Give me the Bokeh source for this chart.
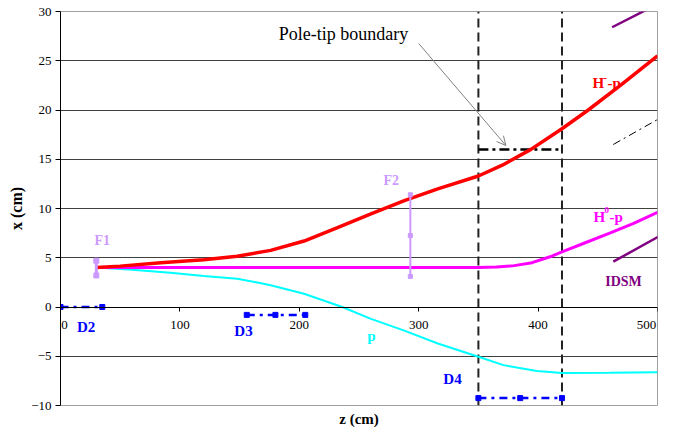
from bokeh.plotting import figure
from bokeh.models import (Range1d, LinearAxis, FixedTicker, Label, LabelSet, Arrow, OpenHead,
                          ColumnDataSource, Title)
from bokeh.embed import file_html
from bokeh.resources import INLINE

# Beam trajectories: horizontal position x (cm) along the beam axis z (cm)
hminus_z = [30, 50, 84, 120, 148, 176, 204, 232, 260, 288, 316, 350, 370, 394, 420, 442, 470, 500]
hminus_x = [4.0, 4.15, 4.5, 4.8, 5.15, 5.75, 6.7, 8.05, 9.45, 10.8, 12.0, 13.3, 14.4, 16.0, 18.1, 20.0, 22.6, 25.5]

hzero_z = [30, 350, 365, 380, 395, 410, 420, 440, 460, 480, 500]
hzero_x = [4.0, 4.0, 4.05, 4.2, 4.5, 5.1, 5.6, 6.55, 7.5, 8.5, 9.6]

proton_z = [30, 60, 92, 120, 148, 168, 176, 204, 236, 260, 288, 316, 350, 371, 399, 420, 460, 500]
proton_x = [4.0, 3.78, 3.47, 3.15, 2.86, 2.42, 2.2, 1.34, 0.0, -1.2, -2.4, -3.7, -5.05, -5.9, -6.5, -6.7, -6.68, -6.62]

# IDSM edges and centre line
idsm_upper_z = [462, 496]
idsm_upper_x = [28.4, 30.5]
idsm_lower_z = [463, 503]
idsm_lower_x = [4.6, 7.3]
idsm_mid_z = [463, 501]
idsm_mid_x = [16.5, 19.1]

# Detectors
d2_z = [0, 35]
d2_x = [0, 0]
d3_z = [156, 180, 205]
d3_x = [-0.8, -0.8, -0.8]
d4_z = [350, 385, 420]
d4_x = [-9.25, -9.25, -9.25]

f1_z = [30, 30]
f1_x = [3.2, 4.7]
f2_z = [293, 293, 293]
f2_x = [3.1, 7.26, 11.4]

# Pole-tip boundary
pole_z = [350, 420]
pole_x = 16.0

x_ticks = [0, 100, 200, 300, 400, 500]
y_ticks = [-10, -5, 0, 5, 10, 15, 20, 25, 30]

SERIF = "Liberation Serif"

p = figure(frame_width=597, frame_height=394,
           min_border_left=60, min_border_right=18, min_border_top=11, min_border_bottom=25,
           x_range=Range1d(0, 500), y_range=Range1d(-10, 30),
           x_axis_type=None, output_backend="svg", toolbar_location=None)
p.background_fill_color = "white"
p.border_fill_color = "white"
p.outline_line_color = "#a0a0a0"

# y axis
yax = p.yaxis[0]
yax.ticker = FixedTicker(ticks=y_ticks)
yax.minor_tick_line_color = None
yax.major_tick_out = 5
yax.major_tick_in = 0
yax.major_label_standoff = 4
yax.major_label_text_font = SERIF
yax.major_label_text_font_size = "13px"
yax.major_label_text_color = "black"
yax.axis_line_color = "black"
yax.major_tick_line_color = "black"
yax.axis_label = "x (cm)"
yax.axis_label_text_font = SERIF
yax.axis_label_text_font_size = "16px"
yax.axis_label_text_font_style = "bold"
yax.axis_label_text_color = "black"
yax.axis_label_standoff = 3

p.ygrid.ticker = FixedTicker(ticks=y_ticks)
p.ygrid.grid_line_color = "#404040"
p.ygrid.grid_line_width = 1

# z axis drawn through x = 0 (its numbers are placed separately below)
zax = LinearAxis(fixed_location=0, ticker=FixedTicker(ticks=x_ticks))
zax.minor_tick_line_color = None
zax.major_tick_out = 4
zax.major_tick_in = 0
zax.major_label_standoff = 0
zax.major_label_text_font_size = "0px"
zax.major_label_text_color = None
zax.axis_line_color = "black"
zax.major_tick_line_color = "black"
p.add_layout(zax, "below")

p.add_layout(Title(text="z (cm)", align="center", offset=-3, standoff=6,
                   text_font=SERIF, text_font_size="15px", text_font_style="bold",
                   text_color="black"), "below")

# z tick labels just under the axis line; the end labels are nudged inside the plot area
lo, hi = x_ticks[0], x_ticks[-1]
ztick_src = ColumnDataSource(dict(
    z=x_ticks, y=[-1.83] * len(x_ticks), t=[str(v) for v in x_ticks],
    dx=[4 if v == lo else (-11 if v == hi else 0) for v in x_ticks]))
p.add_layout(LabelSet(x="z", y="y", text="t", x_offset="dx", source=ztick_src,
                      text_font=SERIF, text_font_size="13px", text_color="black",
                      text_align="center", text_baseline="middle"))

# pole-tip boundary region
for zv in pole_z:
    p.line([zv, zv], [-10, 30], line_color="#222222", line_width=2, line_dash="9 5")
p.line(pole_z, [pole_x, pole_x], line_color="black", line_width=2.5, line_dash="10 4 3 4")

# IDSM
p.line(idsm_upper_z, idsm_upper_x, line_color="#800080", line_width=2.5)
p.line(idsm_lower_z, idsm_lower_x, line_color="#800080", line_width=2.5)
p.line(idsm_mid_z, idsm_mid_x, line_color="black", line_width=1, line_dash="8 4 2 4")

# detectors
for dz, dx in ((d2_z, d2_x), (d3_z, d3_x), (d4_z, d4_x)):
    p.line(dz, dx, line_color="#0000FF", line_width=2.5, line_dash="8 5 3 5")
    p.scatter(dz, dx, marker="square", size=5, color="#0000FF")

# trajectories
p.line(proton_z, proton_x, line_color="#00FFFF", line_width=2)
p.line(hzero_z, hzero_x, line_color="#FF00FF", line_width=3)
p.line(hminus_z, hminus_x, line_color="#FF0000", line_width=3.5)

# flags
p.line(f1_z, f1_x, line_color="#CC99FF", line_width=3)
p.scatter(f1_z, f1_x, marker="square", size=5, color="#CC99FF")
p.line(f2_z, f2_x, line_color="#CC99FF", line_width=2)
p.scatter(f2_z, f2_x, marker="square", size=4, color="#CC99FF")

# annotation arrow
p.add_layout(Arrow(x_start=300, y_start=26.75, x_end=373, y_end=16.4,
                   line_color="#808080", line_width=1,
                   end=OpenHead(size=9, line_color="#808080", line_width=1)))


def lab(text, z, x, color, size="14px", style="bold", **kw):
    opts = dict(text_align="center", text_baseline="middle")
    opts.update(kw)
    p.add_layout(Label(x=z, y=x, text=text, text_color=color, text_font=SERIF,
                       text_font_size=size, text_font_style=style, **opts))


lab("Pole-tip boundary", 237, 27.7, "black", size="18px", style="normal")
lab("F1", 34.9, 6.75, "#CC99FF")
lab("F2", 277, 12.84, "#CC99FF")
lab("IDSM", 471.5, 2.59, "#800080")
lab("p", 260.5, -2.9, "#00FFFF", size="15px")
lab("D2", 21.4, -2.08, "#0000FF", size="15px")
lab("D3", 153.3, -2.44, "#0000FF", size="15px")
lab("D4", 328.3, -7.26, "#0000FF", size="15px")

# H- p label with superscript
lab("H", 445.6, 22.7, "#FF0000", size="15px", text_align="left", text_baseline="alphabetic")
lab("-", 445.6, 22.7, "#FF0000", size="10px", text_align="left", text_baseline="alphabetic",
    x_offset=11, y_offset=6)
lab("-p", 445.6, 22.7, "#FF0000", size="15px", text_align="left", text_baseline="alphabetic",
    x_offset=15)

# H0 p label with superscript
lab("H", 446.4, 9.09, "#FF00FF", size="15px", text_align="left", text_baseline="alphabetic")
lab("0", 446.4, 9.09, "#FF00FF", size="9px", text_align="left", text_baseline="alphabetic",
    x_offset=11, y_offset=7)
lab("-p", 446.4, 9.09, "#FF00FF", size="15px", text_align="left", text_baseline="alphabetic",
    x_offset=16)

open("out.html", "w").write(file_html(p, INLINE))
